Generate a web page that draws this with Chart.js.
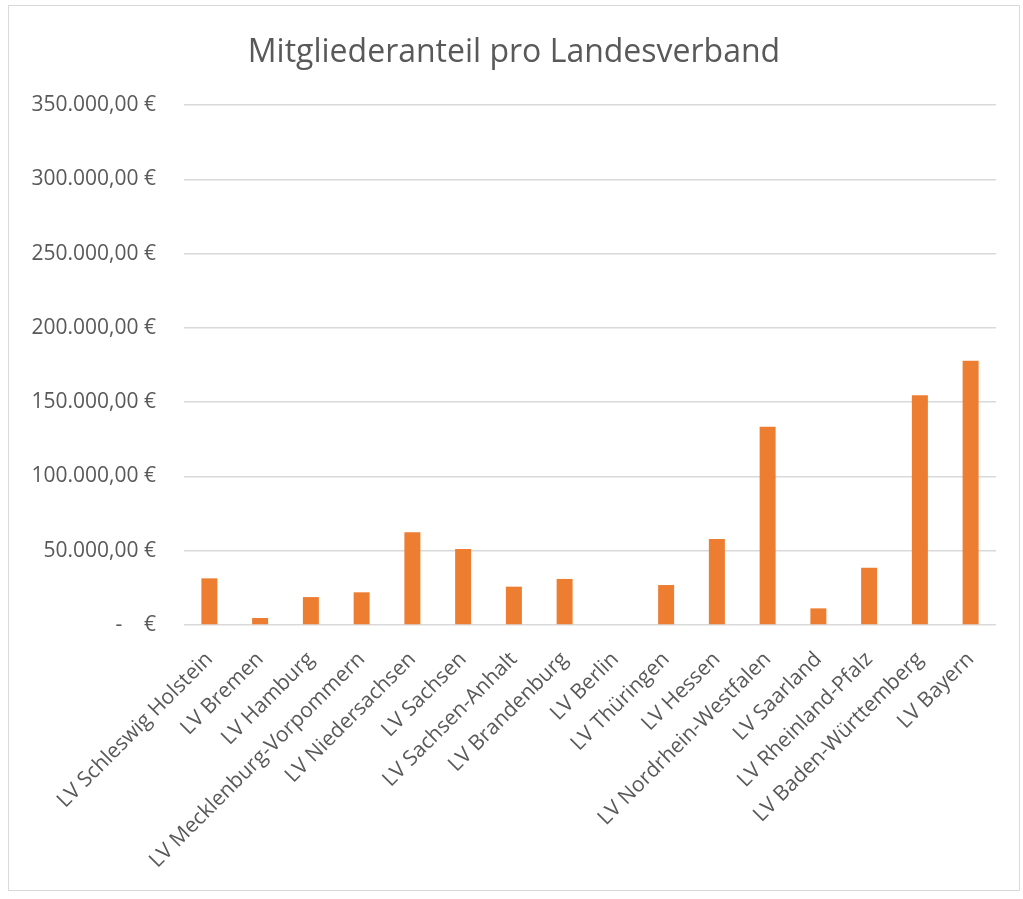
<!DOCTYPE html>
<html>
<head>
<meta charset="utf-8">
<script src="https://cdn.jsdelivr.net/npm/chart.js@4"></script>
<style>
  body { margin: 0; background: #fff; }
  #wrap { position: absolute; left: 8px; top: 5px; width: 1012px; height: 886px; border: 1px solid #d9d9d9; box-sizing: border-box; }
  canvas { display: block; }
</style>
</head>
<body>
<div id="wrap"><canvas id="chart" width="1010" height="884"></canvas></div>
<script>
// Landesverbände and their member share in euros
const verbaende = [
  'LV Schleswig Holstein', 'LV Bremen', 'LV Hamburg', 'LV Mecklenburg-Vorpommern',
  'LV Niedersachsen', 'LV Sachsen', 'LV Sachsen-Anhalt', 'LV Brandenburg',
  'LV Berlin', 'LV Thüringen', 'LV Hessen', 'LV Nordrhein-Westfalen',
  'LV Saarland', 'LV Rheinland-Pfalz', 'LV Baden-Württemberg', 'LV Bayern'
];
const anteile = [
  31400, 4700, 18800, 22000,
  62400, 51100, 25800, 31000,
  0, 26900, 57900, 133500,
  11200, 38600, 154600, 177900
];
const yTicks = [0, 50000, 100000, 150000, 200000, 250000, 300000, 350000];

const textColor = '#595959';
const gridColor = '#d9d9d9';

function euro(v) {
  if (v === 0) return '-    €';
  return v.toLocaleString('de-DE', { minimumFractionDigits: 2, maximumFractionDigits: 2 }) + ' €';
}

const ctx = document.getElementById('chart').getContext('2d');
new Chart(ctx, {
  type: 'bar',
  data: {
    labels: verbaende,
    datasets: [{
      label: 'Mitgliederanteil',
      data: anteile,
      backgroundColor: '#ED7D31',
      borderWidth: 0,
      categoryPercentage: 1,
      barPercentage: 0.315
    }]
  },
  options: {
    responsive: false,
    animation: false,
    layout: { padding: 0 },
    plugins: {
      legend: { display: false },
      tooltip: { enabled: false },
      title: {
        display: true,
        text: 'Mitgliederanteil pro Landesverband',
        color: textColor,
        font: { family: 'Open Sans', size: 32, weight: 'normal', lineHeight: 1.2 },
        padding: { top: 28, bottom: 32.6 }
      }
    },
    scales: {
      x: {
        grid: { display: false },
        border: { display: false },
        ticks: {
          autoSkip: false,
          maxRotation: 45,
          minRotation: 45,
          padding: 14,
          color: textColor,
          font: { family: 'Open Sans', size: 21 }
        },
        afterFit: (scale) => { scale.height = 265; }
      },
      y: {
        min: 0,
        max: 350000,
        afterBuildTicks: (scale) => { scale.ticks = yTicks.map(v => ({ value: v })); },
        grid: { color: gridColor, lineWidth: 1.5, drawTicks: false },
        border: { display: false },
        ticks: {
          padding: 28,
          color: textColor,
          font: { family: 'Open Sans', size: 21 },
          callback: (v) => euro(v)
        },
        afterFit: (scale) => { scale.width = 175; }
      },
      // empty spacer on the right so the title stays centred on the whole box
      spacer: {
        position: 'right',
        grid: { display: false },
        border: { display: false },
        ticks: { display: false },
        afterFit: (scale) => { scale.width = 23; }
      }
    }
  }
});
</script>
</body>
</html>
